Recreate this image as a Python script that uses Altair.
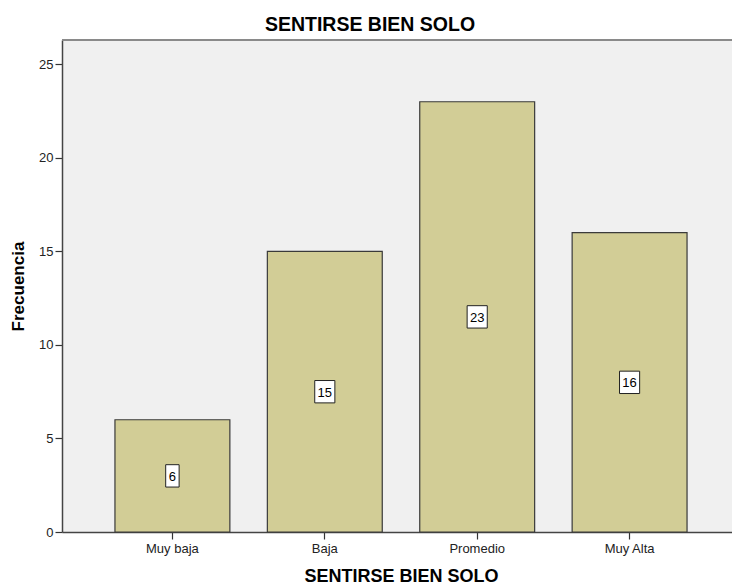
import altair as alt
import pandas as pd

# Frequency table for "SENTIRSE BIEN SOLO"
categorias = ["Muy baja", "Baja", "Promedio", "Muy Alta"]
frecuencias = [6, 15, 23, 16]

df = pd.DataFrame({"Categoria": categorias, "Frecuencia": frecuencias})

FONT = "Liberation Sans"
W, H = 670, 492

x_enc = alt.X(
    "Categoria:N",
    sort=categorias,
    scale=alt.Scale(range=[0, 678], paddingInner=0.246, paddingOuter=0.3475),
    axis=alt.Axis(
        title="SENTIRSE BIEN SOLO",
        labelAngle=0,
        labelFontSize=13,
        labelColor="#222222",
        labelPadding=3,
        tickSize=7,
        tickColor="#333333",
        tickWidth=1.2,
        domainColor="#444444",
        domainWidth=1.5,
        titleFontSize=18,
        titleFontWeight="bold",
        titleColor="#000000",
        titlePadding=12,
        grid=False,
    ),
)

y_scale = alt.Scale(domain=[0, 26.3], nice=False, zero=True)

bars = alt.Chart(df).mark_bar(
    color="#D2CD96", stroke="#3a3a3a", strokeWidth=1.2
).encode(
    x=x_enc,
    y=alt.Y(
        "Frecuencia:Q",
        scale=y_scale,
        axis=alt.Axis(
            title="Frecuencia",
            values=[0, 5, 10, 15, 20, 25],
            labelFontSize=13,
            labelColor="#222222",
            labelPadding=2,
            tickSize=7,
            tickColor="#333333",
            tickWidth=1.2,
            domainColor="#444444",
            domainWidth=1.5,
            titleFontSize=17,
            titleFontWeight="bold",
            titleColor="#000000",
            titlePadding=11,
            grid=False,
        ),
    ),
)

# white value boxes at half height of each bar
mid = alt.Chart(df).transform_calculate(
    mitad="datum.Frecuencia / 2",
    digitos="toString(length(toString(datum.Frecuencia)))",
)

boxes = mid.mark_point(
    filled=True, fill="white", stroke="#222222", strokeWidth=1, opacity=1, size=500
).encode(
    x=alt.X("Categoria:N", sort=categorias),
    y=alt.Y("mitad:Q", scale=y_scale),
    shape=alt.Shape(
        "digitos:N",
        scale=alt.Scale(
            domain=["1", "2"],
            range=["M-0.6,-1H0.6V1H-0.6Z", "M-0.9,-1H0.9V1H-0.9Z"],
        ),
        legend=None,
    ),
)

texts = mid.mark_text(
    font=FONT, fontSize=13, color="#000000", baseline="middle", dy=1
).encode(
    x=alt.X("Categoria:N", sort=categorias),
    y=alt.Y("mitad:Q", scale=y_scale),
    text=alt.Text("Frecuencia:Q"),
)

# top frame edge of the plot area
top_edge = alt.Chart(df).mark_rule(color="#8a8a8a", strokeWidth=1.6).encode(
    x=alt.value(0), x2=alt.value(W), y=alt.value(0)
)

chart = alt.layer(bars, boxes, texts, top_edge).properties(
    width=W,
    height=H,
    title=alt.TitleParams(
        "SENTIRSE BIEN SOLO",
        fontSize=19.5,
        fontWeight="bold",
        font=FONT,
        color="#000000",
        anchor="middle",
        dx=-27,
        offset=4,
    ),
    autosize=alt.AutoSizeParams(type="none"),
    padding={"left": 62, "top": 40, "right": 0, "bottom": 53},
    background="white",
).configure_view(
    fill="#F0F0F0", stroke="transparent", strokeWidth=0
).configure_axis(
    labelFont=FONT, titleFont=FONT
).configure_text(font=FONT)

chart.save("out.html", embed_options={"renderer": "svg", "actions": False})
